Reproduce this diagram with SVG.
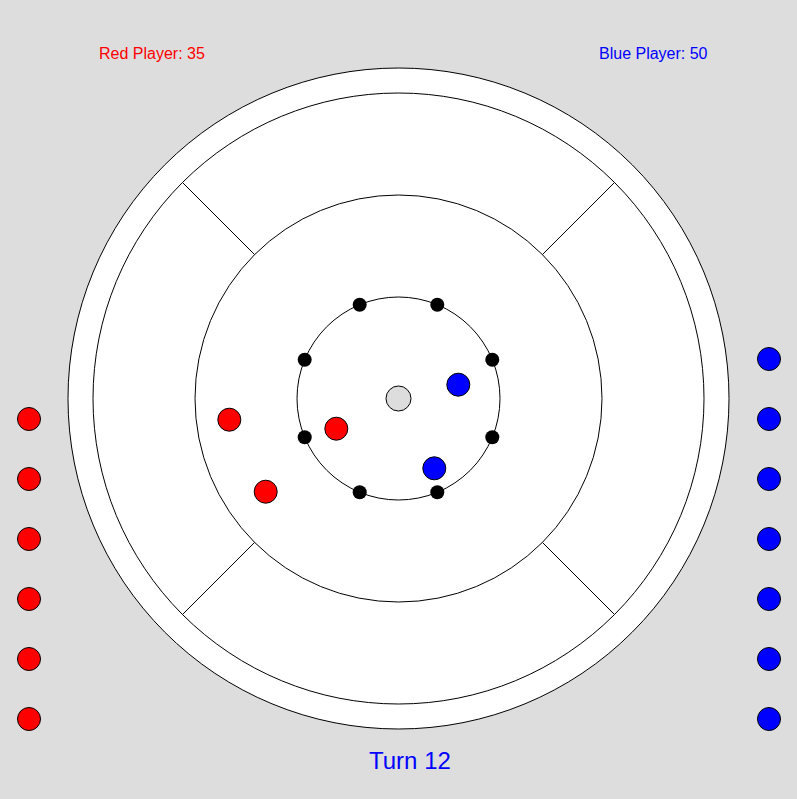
<svg xmlns="http://www.w3.org/2000/svg" width="797" height="799" viewBox="0 0 797 799">
<style>
.ring{fill:#fff;stroke:#000;stroke-width:1}
.line{stroke:#000;stroke-width:1}
.peg{fill:#000}
.red{fill:#f00;stroke:#000;stroke-width:1}
.blue{fill:#00f;stroke:#000;stroke-width:1}
.lbl{font-family:"Liberation Sans",Arial,sans-serif;font-size:16px}
</style>
<rect width="797" height="799" fill="#dddddd"/>
<g id="board">
<circle class="ring" cx="398.5" cy="398.5" r="330.5"/>
<circle class="ring" cx="398.5" cy="398.5" r="305.5"/>
<circle class="ring" cx="398.5" cy="398.5" r="203.5"/>
<circle class="ring" cx="398.5" cy="398.5" r="101.5"/>
</g>
<g id="dividers">
<line class="line" x1="182.5" y1="182.5" x2="254.6" y2="254.6"/>
<line class="line" x1="614.5" y1="182.5" x2="542.4" y2="254.6"/>
<line class="line" x1="182.5" y1="614.5" x2="254.6" y2="542.4"/>
<line class="line" x1="614.5" y1="614.5" x2="542.4" y2="542.4"/>
</g>
<g id="pegs">
<circle class="peg" cx="359.7" cy="304.7" r="7"/>
<circle class="peg" cx="437.3" cy="304.7" r="7"/>
<circle class="peg" cx="304.7" cy="359.7" r="7"/>
<circle class="peg" cx="492.3" cy="359.7" r="7"/>
<circle class="peg" cx="304.7" cy="437.3" r="7"/>
<circle class="peg" cx="492.3" cy="437.3" r="7"/>
<circle class="peg" cx="359.7" cy="492.3" r="7"/>
<circle class="peg" cx="437.3" cy="492.3" r="7"/>
</g>
<g id="center-hole">
<circle cx="398.5" cy="398.5" r="12.5" fill="#dddddd" stroke="#000" stroke-width="1"/>
</g>
<g id="board-discs">
<circle class="blue" cx="458.3" cy="384.7" r="11.5"/>
<circle class="blue" cx="434.3" cy="468.3" r="11.5"/>
<circle class="red" cx="336.3" cy="428.7" r="11.5"/>
<circle class="red" cx="229.3" cy="419.7" r="11.5"/>
<circle class="red" cx="265.7" cy="491.7" r="11.5"/>
</g>
<g id="red-reserve">
<circle class="red" cx="29" cy="419" r="11.5"/>
<circle class="red" cx="29" cy="479" r="11.5"/>
<circle class="red" cx="29" cy="539" r="11.5"/>
<circle class="red" cx="29" cy="599" r="11.5"/>
<circle class="red" cx="29" cy="659" r="11.5"/>
<circle class="red" cx="29" cy="719" r="11.5"/>
</g>
<g id="blue-reserve">
<circle class="blue" cx="769" cy="359" r="11.5"/>
<circle class="blue" cx="769" cy="419" r="11.5"/>
<circle class="blue" cx="769" cy="479" r="11.5"/>
<circle class="blue" cx="769" cy="539" r="11.5"/>
<circle class="blue" cx="769" cy="599" r="11.5"/>
<circle class="blue" cx="769" cy="659" r="11.5"/>
<circle class="blue" cx="769" cy="719" r="11.5"/>
</g>
<g id="labels">
<text class="lbl" x="99" y="59" fill="#ff0000">Red Player: 35</text>
<text class="lbl" x="599" y="59" fill="#0000ff">Blue Player: 50</text>
<text x="369" y="768.5" fill="#0000ff" font-family="Liberation Sans, Arial, sans-serif" font-size="24">Turn 12</text>
</g>
</svg>
